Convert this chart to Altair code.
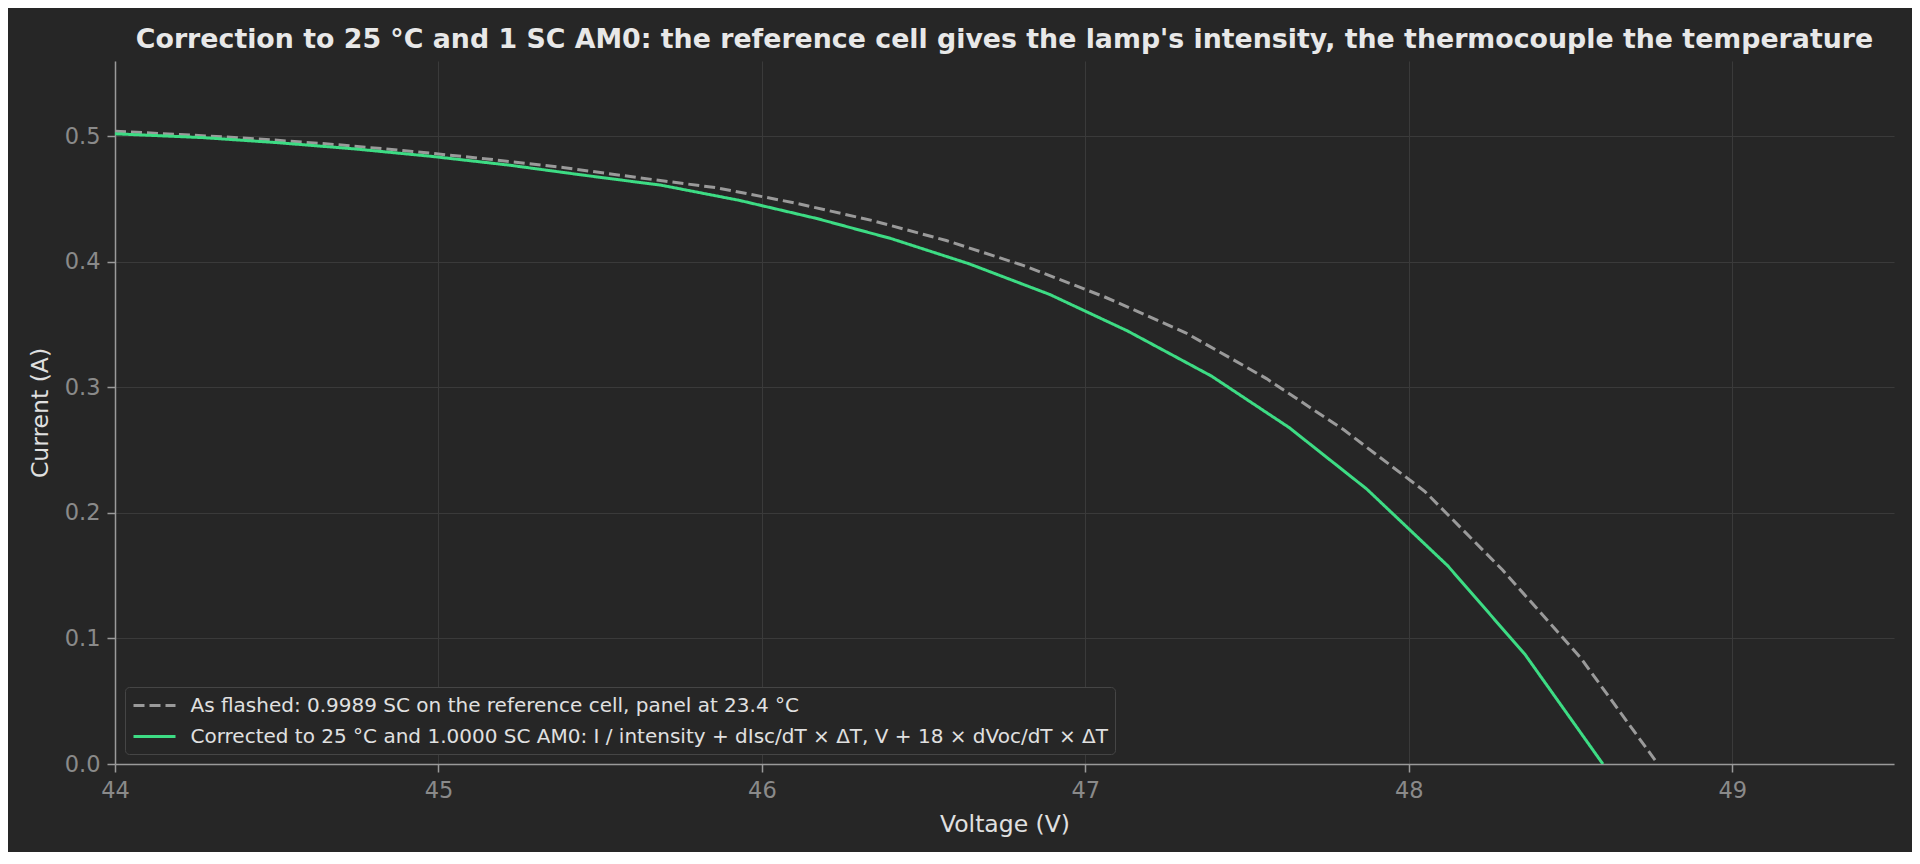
"""I-V curve of a flashed panel, before and after correction to 25 °C and 1 SC AM0"""

import altair as alt
import pandas

# As flashed (measured under the lamp)
voltage_flashed = [44.00, 44.20, 44.44, 44.68, 44.92, 45.15, 45.39, 45.62, 45.86, 46.10, 46.34,
                   46.57, 46.81, 47.06, 47.31, 47.56, 47.80, 48.05, 48.29, 48.53, 48.77]
current_flashed = [0.504, 0.5015, 0.498, 0.4935, 0.488, 0.482, 0.475, 0.467, 0.459, 0.447, 0.433,
                   0.417, 0.397, 0.372, 0.3435, 0.307, 0.266, 0.217, 0.1545, 0.085, 0.000]

# Corrected to 25 °C and 1.0000 SC AM0
voltage_corrected = [44.00, 44.27, 44.50, 44.74, 44.98, 45.22, 45.45, 45.69, 45.93, 46.17,
                     46.40, 46.64, 46.89, 47.13, 47.39, 47.63, 47.87, 48.12, 48.36, 48.60]
current_corrected = [0.502, 0.499, 0.495, 0.490, 0.484, 0.477, 0.469, 0.461, 0.449, 0.4345,
                     0.4185, 0.3985, 0.374, 0.345, 0.309, 0.268, 0.219, 0.158, 0.087, 0.000]

voltage_ticks = [44, 45, 46, 47, 48, 49]
current_ticks = [0.0, 0.1, 0.2, 0.3, 0.4, 0.5]

flashed_label = "As flashed: 0.9989 SC on the reference cell, panel at 23.4 °C"
corrected_label = ("Corrected to 25 °C and 1.0000 SC AM0: I / intensity + dIsc/dT × ΔT, "
                   "V + 18 × dVoc/dT × ΔT")
title_text = ("Correction to 25 °C and 1 SC AM0: the reference cell gives the lamp's intensity, "
              "the thermocouple the temperature")

FONT = "DejaVu Sans"
BACKGROUND = "#262626"
GRID = "#3a3a3a"
SPINE = "#9a9a9a"

data = pandas.concat([
    pandas.DataFrame({"voltage": voltage_flashed, "current": current_flashed, "curve": flashed_label}),
    pandas.DataFrame({"voltage": voltage_corrected, "current": current_corrected, "curve": corrected_label}),
], ignore_index=True)

curves = [flashed_label, corrected_label]

legend = alt.Legend(
    title=None, orient="none", legendX=10, legendY=626,
    symbolType="M-1,0H3.2", symbolSize=400, symbolStrokeWidth=3,
    labelFont=FONT, labelFontSize=20, labelColor="#e0e0e0", labelOffset=35.5, labelLimit=1500,
    rowPadding=9, padding=7, fillColor=BACKGROUND, strokeColor="#454545", cornerRadius=4,
)

chart = (
    alt.Chart(data)
    .mark_line(strokeWidth=3, clip=True)
    .encode(
        x=alt.X("voltage:Q", title="Voltage (V)",
                scale=alt.Scale(domain=[44, 49.5], nice=False, zero=False),
                axis=alt.Axis(values=voltage_ticks, format="d",
                              titleY=67, titleBaseline="alphabetic")),
        y=alt.Y("current:Q", title="Current (A)",
                scale=alt.Scale(domain=[0, 0.56], nice=False),
                axis=alt.Axis(values=current_ticks, format=".1f",
                              titleX=-68, titleY=351.5, titleBaseline="alphabetic",
                              titleAlign="center")),
        color=alt.Color("curve:N", scale=alt.Scale(domain=curves, range=["#9a9a9a", "#3ddc84"]),
                        legend=legend),
        strokeDash=alt.StrokeDash("curve:N", scale=alt.Scale(domain=curves, range=[[11, 5], [1, 0]]),
                                  legend=legend),
    )
    .properties(
        width=1779, height=703,
        autosize=alt.AutoSizeParams(type="none"),
        padding={"left": 107, "top": 53, "right": 18, "bottom": 88},
        background=BACKGROUND,
        title=alt.Title(title_text, font=FONT, fontSize=26.8, fontWeight="bold", color="#e8e8e8",
                        anchor="middle", frame="group", offset=14, dy=27.5, baseline="alphabetic"),
    )
    .configure_view(stroke=None)
    .configure_axis(
        grid=True, gridColor=GRID, gridWidth=1, labelFlush=False,
        domainColor=SPINE, domainWidth=1.5, tickColor=SPINE, tickSize=8, tickWidth=1.5,
        labelFont=FONT, labelFontSize=22.5, labelColor="#8a8a8a", labelPadding=7,
        titleFont=FONT, titleFontSize=23.5, titleColor="#e0e0e0", titleFontWeight="normal",
    )
)

chart.save("out.html", embed_options={"renderer": "svg", "actions": False})
